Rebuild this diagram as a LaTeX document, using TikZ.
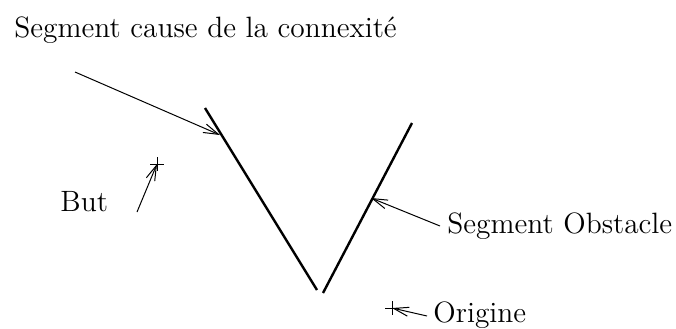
\documentclass[tikz,border=0pt]{standalone}
\usepackage{tikz}
\usetikzlibrary{arrows.meta}
\tikzset{
  seg/.style={line width=1.2pt},
  fleche/.style={line width=0.5pt,-{Straight Barb[length=7.5pt,width=4.5pt]}},
  lab/.style={anchor=base west,inner sep=0pt,font=\fontsize{14.7}{17}\selectfont},
}
\begin{document}
\begin{tikzpicture}[x=0.5pt,y=-0.5pt]
  \useasboundingbox (0,0) rectangle (676,328);
  % the two obstacle segments
  \coordinate (g1) at (205,108);
  \coordinate (g2) at (317,290);
  \coordinate (d1) at (323,293);
  \coordinate (d2) at (412,123);
  \draw[seg] (g1) -- (g2);
  \draw[seg] (d1) -- (d2);
  % points marked with a cross
  \foreach \nom/\x/\y in {but/157/164,orig/392/308} {
    \coordinate (\nom) at (\x,\y);
    \draw[line width=0.5pt] (\x-7,\y) -- (\x+7,\y) (\x,\y-7) -- (\x,\y+7);
  }
  % labels
  \node[lab] (titre) at (14,37) {Segment cause de la connexit\'e};
  \node[lab] (lbut) at (60,211) {But};
  \node[lab] (lobst) at (447,233) {Segment Obstacle};
  \node[lab] (lorig) at (433,322) {Origine};
  % arrows
  \coordinate (t0) at (75,72);
  \coordinate (t1) at (220,135);
  \coordinate (b0) at (137,212);
  \coordinate (o0) at (440,226);
  \coordinate (o1) at (371,198);
  \coordinate (r0) at (427,316);
  \draw[fleche] (t0) -- (t1);
  \draw[fleche] (b0) -- (but);
  \draw[fleche] (o0) -- (o1);
  \draw[fleche] (r0) -- (orig);
\end{tikzpicture}
\end{document}
